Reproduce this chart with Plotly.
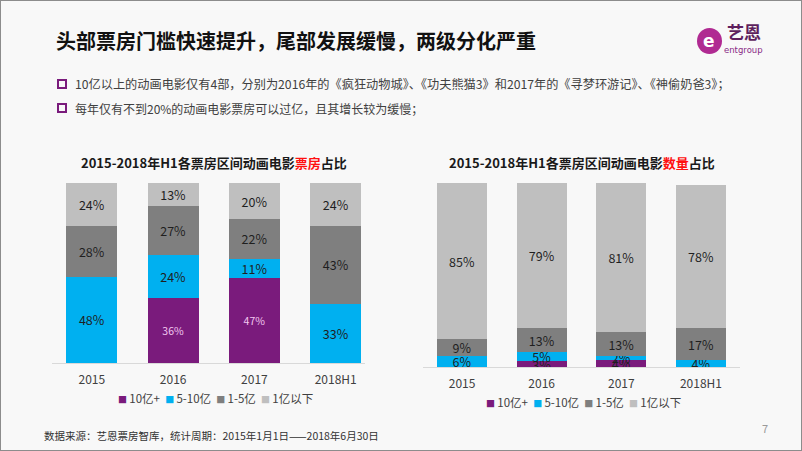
import plotly.graph_objects as go

# ---------------- data ----------------
years = ["2015", "2016", "2017", "2018H1"]
series_names = ["10亿+", "5-10亿", "1-5亿", "1亿以下"]

# 票房占比 (%)
box_10plus = [0, 36, 47, 0]
box_5_10 = [48, 24, 11, 33]
box_1_5 = [28, 27, 22, 43]
box_below1 = [24, 13, 20, 24]

# 数量占比 (%)
cnt_10plus = [0, 3, 4, 0]
cnt_5_10 = [6, 5, 2, 4]
cnt_1_5 = [9, 13, 13, 17]
cnt_below1 = [85, 79, 81, 78]

colors = ["#7A1B7C", "#00B0F0", "#7F7F7F", "#BFBFBF"]
text_colors = ["#F3C8F0", "#1F1F1F", "#1F1F1F", "#1F1F1F"]
text_sizes = [10.5, 12.5, 12.5, 12.5]

FONT = "Noto Sans CJK SC"
W, H = 802, 451


def px(x):
    return x / W


def py(y):
    return 1 - y / H


fig = go.Figure()

left_series = [box_10plus, box_5_10, box_1_5, box_below1]
right_series = [cnt_10plus, cnt_5_10, cnt_1_5, cnt_below1]

for i, (name, vals) in enumerate(zip(series_names, left_series)):
    fig.add_trace(go.Bar(
        x=years, y=vals, name=name,
        marker=dict(color=colors[i], line=dict(width=0)),
        text=[f"{v}%" if v > 0 else "" for v in vals],
        textposition="inside", insidetextanchor="middle", constraintext="none", textangle=0,
        textfont=dict(family=FONT, size=text_sizes[i], color=text_colors[i]),
        xaxis="x", yaxis="y", showlegend=False, hoverinfo="skip",
    ))

for i, (name, vals) in enumerate(zip(series_names, right_series)):
    fig.add_trace(go.Bar(
        x=years, y=vals, name=name,
        marker=dict(color=colors[i], line=dict(width=0)),
        text=[f"{v}%" if v > 0 else "" for v in vals],
        textposition="inside", insidetextanchor="middle", constraintext="none", textangle=0,
        textfont=dict(family=FONT, size=12.5, color="#1F1F1F"),
        xaxis="x2", yaxis="y2", showlegend=False, hoverinfo="skip",
    ))

axis_common = dict(
    showgrid=False, zeroline=False, ticks="", showline=True,
    linecolor="#D9D9D9", linewidth=1,
    tickfont=dict(family=FONT, size=12, color="#404040"),
    ticklabelstandoff=6, type="category",
)
yaxis_common = dict(showgrid=False, zeroline=False, showticklabels=False,
                    showline=False, range=[0, 100], fixedrange=True)

fig.update_layout(
    width=W, height=H,
    margin=dict(l=0, r=0, t=0, b=0),
    paper_bgcolor="#F8F8F8", plot_bgcolor="rgba(0,0,0,0)",
    barmode="stack", bargap=0.37,
    font=dict(family=FONT, color="#404040"),
    xaxis=dict(domain=[px(52), px(365)], range=[-0.49, 3.36], anchor="y", **axis_common),
    yaxis=dict(domain=[py(363), py(183)], anchor="x", **yaxis_common),
    xaxis2=dict(domain=[px(423), px(740)], range=[-0.49, 3.49], anchor="y2", **axis_common),
    yaxis2=dict(domain=[py(367), py(183)], anchor="x2", **yaxis_common),
    showlegend=False,
)

# legend rows built from the series names and colours
sep = "\u00a0\u00a0"
legend_text = sep.join(
    f"<span style='color:{c};font-size:9px'>■</span>\u2009{n}"
    for n, c in zip(series_names, colors)
)

annotations = [
    dict(text="<b>头部票房门槛快速提升，尾部发展缓慢，两级分化严重</b>",
         x=px(54), y=py(40), xanchor="left", yanchor="middle",
         font=dict(family=FONT, size=20, color="#111111")),
    dict(text="10亿以上的动画电影仅有4部，分别为2016年的《疯狂动物城》、《功夫熊猫3》和2017年的《寻梦环游记》、《神偷奶爸3》；",
         x=px(73), y=py(84), xanchor="left", yanchor="middle",
         font=dict(family=FONT, size=12.2, color="#404040")),
    dict(text="每年仅有不到20%的动画电影票房可以过亿，且其增长较为缓慢；",
         x=px(73), y=py(108), xanchor="left", yanchor="middle",
         font=dict(family=FONT, size=12, color="#404040")),
    dict(text="<b>2015-2018年H1各票房区间动画电影<span style='color:#FF1010'>票房</span>占比</b>",
         x=px(214), y=py(163), xanchor="center", yanchor="middle",
         font=dict(family=FONT, size=13, color="#1A1A1A")),
    dict(text="<b>2015-2018年H1各票房区间动画电影<span style='color:#FF1010'>数量</span>占比</b>",
         x=px(582), y=py(163), xanchor="center", yanchor="middle",
         font=dict(family=FONT, size=13, color="#1A1A1A")),
    dict(text=legend_text, x=px(215), y=py(398), xanchor="center", yanchor="middle",
         font=dict(family=FONT, size=11.5, color="#404040")),
    dict(text=legend_text, x=px(583), y=py(402), xanchor="center", yanchor="middle",
         font=dict(family=FONT, size=11.5, color="#404040")),
    dict(text="数据来源：艺恩票房智库，统计周期：2015年1月1日——2018年6月30日",
         x=px(42), y=py(435), xanchor="left", yanchor="middle",
         font=dict(family=FONT, size=10.5, color="#333333")),
    dict(text="7", x=px(765), y=py(428), xanchor="center", yanchor="middle",
         font=dict(family=FONT, size=11, color="#9A9A9A")),
    # logo
    dict(text="<b>e</b>", x=px(709), y=py(41), xanchor="center", yanchor="middle",
         font=dict(family="DejaVu Sans", size=17, color="#FFFFFF")),
    dict(text="<b>艺恩</b>", x=px(744), y=py(32), xanchor="center", yanchor="middle",
         font=dict(family=FONT, size=17, color="#5E1F5E")),
    dict(text="entgroup", x=px(743), y=py(50), xanchor="center", yanchor="middle",
         font=dict(family="DejaVu Sans", size=8.5, color="#8A2B86")),
]
for a in annotations:
    a.update(xref="paper", yref="paper", showarrow=False)
fig.update_layout(annotations=annotations)

shapes = [
    # slide frame
    dict(type="rect", x0=0, x1=1, y0=0, y1=1, xref="paper", yref="paper",
         line=dict(color="#8C8C8C", width=2), fillcolor="rgba(0,0,0,0)"),
    # bullet squares
    dict(type="rect", x0=px(58), x1=px(66), y0=py(88), y1=py(80), xref="paper", yref="paper",
         line=dict(color="#7A1B7C", width=2), fillcolor="rgba(0,0,0,0)"),
    dict(type="rect", x0=px(58), x1=px(66), y0=py(112), y1=py(104), xref="paper", yref="paper",
         line=dict(color="#7A1B7C", width=2), fillcolor="rgba(0,0,0,0)"),
    # logo blob
    dict(type="circle", x0=px(697), x1=px(722), y0=py(54), y1=py(28), xref="paper", yref="paper",
         line=dict(width=0), fillcolor="#B02A92", layer="below"),
]
fig.update_layout(shapes=shapes)

fig.write_html("out.html", config={"displayModeBar": False},
               post_script="document.body.style.margin='0';document.body.style.overflow='hidden';")
